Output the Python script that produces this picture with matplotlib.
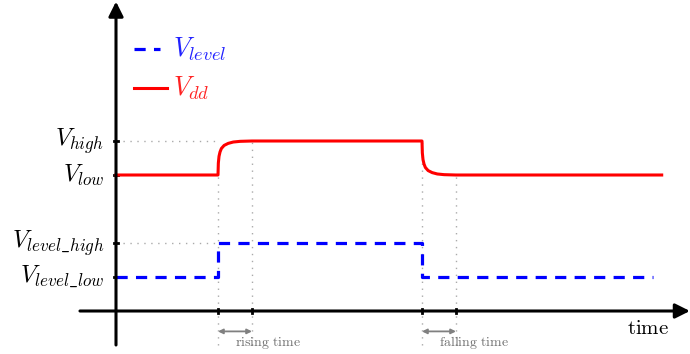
import matplotlib
matplotlib.use("Agg")
import matplotlib.pyplot as plt

plt.rcParams['mathtext.fontset'] = 'cm'
plt.rcParams['font.family'] = 'DejaVu Serif'

# ---- data (time units / voltage units) ----
vdd_t = [0, 3, 3.01, 3.03, 3.06, 3.1, 3.18, 3.3, 3.45, 3.65, 4.0, 9, 9.01, 9.03, 9.06, 9.1, 9.18, 9.3, 9.45, 9.65, 10.0, 16.05]
vdd_v = [4, 4, 4.35, 4.55, 4.68, 4.78, 4.87, 4.93, 4.97, 4.99, 5.0, 5, 4.65, 4.45, 4.32, 4.22, 4.13, 4.07, 4.03, 4.01, 4.0, 4.0]
lvl_t = [0, 3, 3, 9, 9, 15.8]
lvl_v = [1, 1, 2, 2, 1, 1]
ytick_vals = [5, 4, 2, 1]
ytick_labels = [r'$V_{high}$', r'$V_{low}$', r'$V_{level\_high}$', r'$V_{level\_low}$']
xtick_vals = [3, 4, 9, 10]
spans = [(3, 4, r'$\mathrm{rising\ time}$'), (9, 10, r'$\mathrm{falling\ time}$')]

fig = plt.figure(figsize=(6.9, 3.54), dpi=100)
ax = fig.add_axes([0, 0, 1, 1])
ax.set_xlim(-116 / 34, (690 - 116) / 34)
ax.set_ylim((311 - 354) / 34, 311 / 34)
ax.axis('off')

gray = '#aaaaaa'
# dotted guide lines
for v in [5, 2]:
    ax.plot([0, 3], [v, v], ls=(0, (1, 4)), color=gray, lw=1)
vtops = {3: 4, 4: 5, 9: 5, 10: 4}
for t in xtick_vals:
    ax.plot([t, t], [-1.0, vtops[t]], ls=(0, (1, 4)), color=gray, lw=1)

# axes with arrows
ax.annotate('', xy=(16.88, 0), xytext=(-1.06, 0), annotation_clip=False,
            arrowprops=dict(arrowstyle='-|>', lw=2.2, color='k', mutation_scale=22, shrinkA=0, shrinkB=0))
ax.annotate('', xy=(0, 9.1), xytext=(0, -1.0), annotation_clip=False,
            arrowprops=dict(arrowstyle='-|>', lw=2.2, color='k', mutation_scale=22, shrinkA=0, shrinkB=0))

# ticks
for v in ytick_vals:
    ax.plot([-0.07, 0.07], [v, v], color='k', lw=2)
for t in xtick_vals:
    ax.plot([t, t], [-0.07, 0.07], color='k', lw=2)

# y labels
for v, lab in zip(ytick_vals, ytick_labels):
    ax.text(-0.35, v, lab, ha='right', va='center', fontsize=17.5)

# signals
ax.plot(lvl_t, lvl_v, color='#0000ff', lw=2.3, ls=(0, (3.5, 2.6)))
ax.plot(vdd_t, vdd_v, color='#ff0000', lw=2.2)

# span arrows
for a, b, lab in spans:
    ax.annotate('', xy=(b, -0.6), xytext=(a, -0.6),
                arrowprops=dict(arrowstyle='<|-|>', lw=1.3, color='#808080', mutation_scale=7, shrinkA=0, shrinkB=0))
    ax.text((a + b) / 2, -0.93, lab, ha='left', va='center', fontsize=10, color='#707070')

ax.text(15.65, -0.5, r'$\mathrm{time}$', ha='center', va='center', fontsize=15)

# legend (manual)
ax.plot([0.53, 1.3], [7.7, 7.7], color='#0000ff', lw=2.3, ls=(0, (3.5, 2.6)))
ax.text(1.68, 7.7, r'$V_{level}$', color='#2222ff', fontsize=19, va='center', ha='left')
ax.plot([0.53, 1.5], [6.56, 6.56], color='#ff0000', lw=2.2)
ax.text(1.68, 6.56, r'$V_{dd}$', color='#ff2222', fontsize=19, va='center', ha='left')

fig.savefig('out.png', dpi=100)
